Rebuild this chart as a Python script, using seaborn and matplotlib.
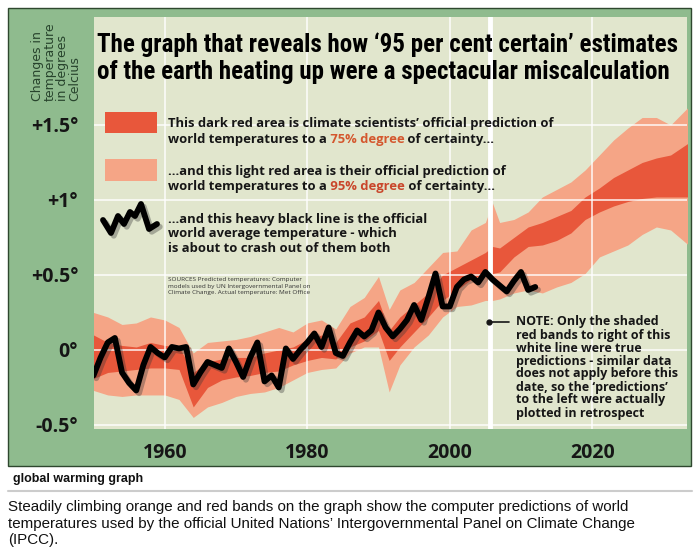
import matplotlib
matplotlib.use("Agg")
import matplotlib.pyplot as plt
import matplotlib.patheffects as pe
from matplotlib.patches import Rectangle
from matplotlib.lines import Line2D
import seaborn as sns

# ---------------- data ----------------
obs_years = list(range(1950, 2013))
obs_temps = [-0.17, -0.05, 0.05, 0.08, -0.15, -0.22, -0.27, -0.10, 0.02, -0.02,
             -0.05, 0.02, 0.01, 0.02, -0.23, -0.15, -0.08, -0.10, -0.12, 0.01,
             -0.08, -0.18, -0.05, 0.05, -0.21, -0.17, -0.25, 0.01, -0.06, 0.00,
             0.05, 0.11, 0.02, 0.15, -0.02, -0.04, 0.05, 0.13, 0.09, 0.13,
             0.25, 0.15, 0.09, 0.14, 0.20, 0.30, 0.20, 0.35, 0.51, 0.29,
             0.29, 0.42, 0.47, 0.49, 0.45, 0.52, 0.47, 0.43, 0.39, 0.46,
             0.52, 0.40, 0.42]

band_years = [1950, 1952, 1954, 1956, 1958, 1960, 1962, 1964, 1966, 1968,
              1970, 1972, 1974, 1976, 1978, 1980, 1982, 1984, 1986, 1988,
              1990, 1991.5, 1993, 1995, 1997, 1999, 2001, 2003, 2005, 2006,
              2007, 2009, 2011, 2013, 2015, 2017, 2019, 2021, 2023, 2025,
              2027, 2029, 2031, 2033.5]
band95_high = [0.25, 0.22, 0.17, 0.18, 0.22, 0.20, 0.15, -0.02, 0.05, 0.06,
               0.07, 0.09, 0.12, 0.15, 0.12, 0.18, 0.20, 0.14, 0.29, 0.35,
               0.49, 0.27, 0.40, 0.45, 0.55, 0.65, 0.66, 0.80, 0.85, 0.98,
               0.85, 0.87, 0.92, 1.02, 1.07, 1.12, 1.20, 1.30, 1.40, 1.48,
               1.55, 1.55, 1.50, 1.62]
band95_low = [-0.27, -0.30, -0.31, -0.30, -0.30, -0.30, -0.33, -0.45, -0.38, -0.35,
              -0.31, -0.29, -0.28, -0.25, -0.20, -0.15, -0.13, -0.12, -0.02, 0.02,
              0.02, -0.28, -0.10, 0.02, 0.10, 0.22, 0.29, 0.30, 0.33, 0.33,
              0.34, 0.38, 0.40, 0.38, 0.42, 0.45, 0.51, 0.62, 0.66, 0.70,
              0.77, 0.82, 0.80, 0.70]
band75_high = [0.10, 0.05, 0.03, 0.02, 0.05, 0.03, 0.02, -0.15, -0.08, -0.06,
               -0.05, -0.05, -0.02, 0.00, 0.02, 0.07, 0.10, 0.05, 0.18, 0.22,
               0.33, 0.13, 0.22, 0.30, 0.38, 0.50, 0.55, 0.60, 0.65, 0.69,
               0.68, 0.75, 0.82, 0.85, 0.89, 0.93, 1.02, 1.08, 1.15, 1.20,
               1.25, 1.28, 1.30, 1.38]
band75_low = [-0.19, -0.15, -0.14, -0.13, -0.12, -0.12, -0.13, -0.38, -0.25, -0.20,
              -0.18, -0.17, -0.15, -0.14, -0.10, -0.07, -0.05, -0.06, 0.02, 0.06,
              0.13, -0.07, 0.02, 0.12, 0.22, 0.33, 0.40, 0.47, 0.51, 0.51,
              0.52, 0.62, 0.69, 0.70, 0.73, 0.78, 0.87, 0.92, 0.96, 0.99,
              1.01, 1.02, 1.02, 1.02]

y_ticks = [1.5, 1.0, 0.5, 0.0, -0.5]
y_ticklabels = ["+1.5°", "+1°", "+0.5°", "0°", "-0.5°"]
x_ticks = [1960, 1980, 2000, 2020]
x_ticklabels = ["1960", "1980", "2000", "2020"]
prediction_start = 2005.6

title_lines = ["The graph that reveals how \u201895 per cent certain\u2019 estimates",
               "of the earth heating up were a spectacular miscalculation"]
y_label = "Changes in\ntemperature\nin degrees\nCelcius"
note_text = ("NOTE: Only the shaded\nred bands to right of this\nwhite line were true\n"
             "predictions - similar data\ndoes not apply before this\n"
             "date, so the \u2018predictions\u2019\nto the left were actually\nplotted in retrospect")
sources_text = ("SOURCES Predicted temperatures: Computer\n"
                "models used by UN Intergovernmental Panel on\n"
                "Climate Change. Actual temperature: Met Office")
caption_label = "global warming graph"
caption_text = ("Steadily climbing orange and red bands on the graph show the computer predictions of world\n"
                "temperatures used by the official United Nations\u2019 Intergovernmental Panel on Climate Change\n"
                "(IPCC).")

# ---------------- style ----------------
W, H = 700, 559
sns.set_theme(style="white")
plt.rcParams['font.family'] = ['Open Sans', 'DejaVu Sans']

GREEN = '#8fbb8e'
PANEL = '#e1e6cd'
DARK = '#e8573b'
LIGHT = '#f5a586'
INK = '#161616'


def fx(px):
    return px / W


def fy(py):
    return 1 - py / H


fig = plt.figure(figsize=(7, 5.59), dpi=100)
fig.patch.set_facecolor('white')
renderer = fig.canvas.get_renderer()

frame = Rectangle((fx(8), fy(466)), fx(691) - fx(8), fy(8) - fy(466),
                  transform=fig.transFigure, facecolor=GREEN,
                  edgecolor='#2e472e', lw=1.0, zorder=-5)
fig.add_artist(frame)

ax = fig.add_axes([fx(93.5), fy(429), fx(687) - fx(93.5), fy(17) - fy(429)])
ax.set_facecolor(PANEL)

ax.fill_between(band_years, band95_low, band95_high, color=LIGHT, lw=0, zorder=1)
ax.fill_between(band_years, band75_low, band75_high, color=DARK, lw=0, zorder=1.5)

ax.axvline(prediction_start, color='white', lw=3.5, zorder=3)

sns.lineplot(x=obs_years, y=obs_temps, ax=ax, color='black', lw=4.2, zorder=5,
             solid_joinstyle='round', solid_capstyle='round',
             path_effects=[pe.SimpleLineShadow(offset=(2, -2), shadow_color='#333333', alpha=0.35),
                           pe.Normal()])

ax.set_xlim(1950, 2033.3)
ax.set_ylim(-0.527, 2.22)
ax.set_xticks(x_ticks)
ax.set_xticklabels(x_ticklabels)
ax.set_yticks(y_ticks)
ax.set_yticklabels(y_ticklabels)
ax.set_axisbelow(False)
ax.grid(True, color='white', lw=1.2, alpha=0.85)
for s in ax.spines.values():
    s.set_visible(False)
ax.tick_params(axis='both', direction='out', length=9, width=1.5, color='white',
               labelcolor=INK)
ax.tick_params(axis='y', pad=2)
ax.tick_params(axis='x', pad=1)
for lab in ax.get_xticklabels() + ax.get_yticklabels():
    lab.set_fontweight('bold')
    lab.set_fontsize(14)
ax.set_xlabel('')
ax.set_ylabel('')

# y label (rotated, top-left)
fig.text(fx(56), fy(101), y_label, rotation=90, ha='center', va='bottom',
         multialignment='left', fontsize=9, fontfamily=['DejaVu Sans'],
         color='#27432c', linespacing=0.95)

# title: heavy condensed-looking face, sized to span the reference width
title_kw = dict(fontfamily=['Roboto Condensed', 'Roboto', 'DejaVu Sans'], fontweight='black',
                fontsize=20, color='black', ha='left', va='center')
t1 = fig.text(fx(97), fy(45), title_lines[0], **title_kw)
t2 = fig.text(fx(97), fy(72), title_lines[1], **title_kw)
w1 = t1.get_window_extent(renderer).width
fs = 20 * 580 / w1
t1.set_fontsize(fs)
t2.set_fontsize(fs)

# legend keys
fig.add_artist(Rectangle((fx(105), fy(133)), fx(157) - fx(105), fy(112) - fy(133),
                         transform=fig.transFigure, facecolor=DARK, lw=0))
fig.add_artist(Rectangle((fx(105), fy(181)), fx(157) - fx(105), fy(159) - fy(181),
                         transform=fig.transFigure, facecolor=LIGHT, lw=0))
squig_x = [103, 111, 118, 124, 130, 135, 141, 149, 157]
squig_y = [220, 233, 216, 224, 212, 216, 204, 229, 224]
fig.add_artist(Line2D([fx(v) for v in squig_x], [fy(v) for v in squig_y],
                      transform=fig.transFigure, color='black', lw=4.2,
                      solid_joinstyle='round', solid_capstyle='round',
                      path_effects=[pe.SimpleLineShadow(offset=(2, -2), shadow_color='#333333', alpha=0.35),
                                    pe.Normal()]))

LEG_FS = 9.4
leg_kw = dict(fontsize=LEG_FS, fontweight='bold', va='baseline', ha='left')


def line_parts(x_px, y_px, parts):
    x = x_px
    for s, c in parts:
        t = fig.text(fx(x), fy(y_px + 4.5), s, color=c, **leg_kw)
        bb = t.get_window_extent(renderer)
        x = bb.x1


line_parts(168, 123, [("This dark red area is climate scientists\u2019 official prediction of", INK)])
line_parts(168, 138.5, [("world temperatures to a", INK), (" 75% degree", '#d4572e'),
                        (" of certainty...", INK)])
line_parts(168, 170, [("...and this light red area is their official prediction of", INK)])
line_parts(168, 185.5, [("world temperatures to a", INK), (" 95% degree", '#c9462b'),
                        (" of certainty...", INK)])
line_parts(168, 218, [("...and this heavy black line is the official", INK)])
line_parts(168, 233, [("world average temperature - which", INK)])
line_parts(168, 248, [("is about to crash out of them both", INK)])

fig.text(fx(168), fy(277.5), sources_text, fontsize=4.6, color='#333333', ha='left',
         va='top', linespacing=1.3)

# note
fig.add_artist(Line2D([fx(489), fx(509)], [fy(322), fy(322)], transform=fig.transFigure,
                      color=INK, lw=1.2))
fig.add_artist(Line2D([fx(489)], [fy(322)], transform=fig.transFigure, marker='o',
                      markersize=3.5, color=INK, lw=0))
fig.text(fx(516), fy(315.5), note_text, fontsize=9, fontweight='bold', color=INK,
         ha='left', va='top', linespacing=1.0)

# captions under the graphic
fig.text(fx(13), fy(479), caption_label, fontfamily=['Liberation Sans', 'DejaVu Sans'],
         fontsize=9, fontweight='bold', color='#111111', ha='left', va='center')
fig.add_artist(Line2D([fx(8), fx(692)], [fy(490.5), fy(490.5)], transform=fig.transFigure,
                      color='#cccccc', lw=1.5))
fig.text(fx(8), fy(500.5), caption_text, fontfamily=['Liberation Sans', 'DejaVu Sans'],
         fontsize=10.9, color='#111111', ha='left', va='top', linespacing=1.2)

fig.savefig('out.png', dpi=100, facecolor='white')
